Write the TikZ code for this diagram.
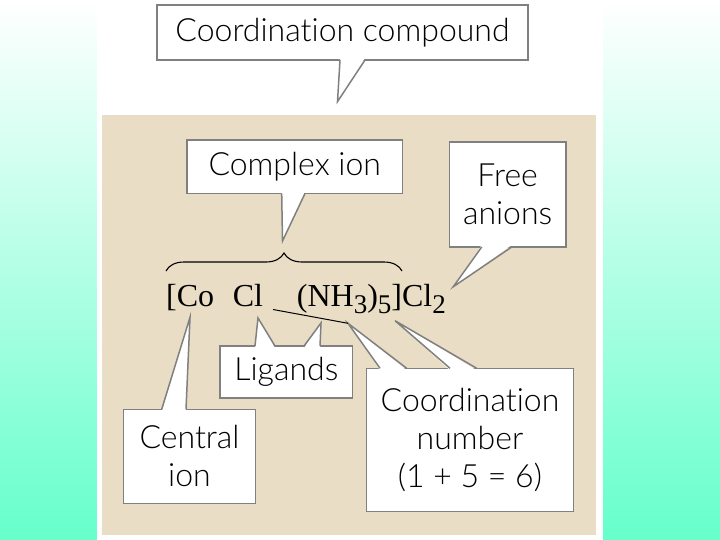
\documentclass[tikz,border=0pt]{standalone}
\usepackage{fontspec}
\IfFontExistsTF{Lato Light}{\setmainfont{Lato Light}[Ligatures=NoCommon]}{\setmainfont{Lato}[Ligatures=NoCommon]}
\newfontfamily\tms{Liberation Serif}
\usetikzlibrary{decorations.pathreplacing,calc}
\definecolor{aqua}{RGB}{102,255,204}
\definecolor{tanbg}{RGB}{233,222,197}
\definecolor{edgegray}{RGB}{128,128,128}
\newcommand{\sbs}[1]{\raisebox{-7pt}{\fontsize{27}{27}\selectfont #1}}
\begin{document}
\begin{tikzpicture}[x=1pt,y=-1pt,
  box/.style={draw=edgegray, line width=1.5pt, fill=white, inner sep=0pt, align=center,
              font=\fontsize{32}{38}\selectfont},
  tailedge/.style={draw=edgegray, line width=1.5pt, line join=miter},
  formula/.style={inner sep=0pt, anchor=base west, font=\tms\fontsize{32}{32}\selectfont}]
\useasboundingbox (0,0) rectangle (720,540);
% background
\shade[top color=white, bottom color=aqua] (0,0) rectangle (720,540);
\fill[white] (97,0) rectangle (603,540);
\fill[tanbg] (102,115) rectangle (596,535);

% boxes
\node[box, minimum width=371pt, minimum height=55pt] (cc) at (342.5,32.5) {Coordination compound};
\node[box, minimum width=215.5pt, minimum height=53.5pt] (ci) at (294.75,166.75) {Complex ion};
\node[box, minimum width=116.7pt, minimum height=105pt] (fa) at (507.65,194.5) {Free\\anions};
\node[box, minimum width=132.7pt, minimum height=52pt] (lg) at (286.35,372) {Ligands};
\node[box, minimum width=132.4pt, minimum height=94pt] (ce) at (189.5,456.3) {Central\\ion};
\node[box, minimum width=206.6pt, minimum height=143.4pt] (cn) at (470,440) {Coordination\\number\\(1 + 5 = 6)};

% tail tips
\coordinate (cct) at (337.5,101.6);
\coordinate (cit) at (282.5,241);
\coordinate (fat) at (453.3,286.7);
\coordinate (lgt1) at (258,318);
\coordinate (lgt2) at (321,323);
\coordinate (cet) at (190,317.3);
\coordinate (cnt1) at (348,323.3);
\coordinate (cnt2) at (395,320.7);

% tails: white fill then gray edges
\fill[white] (340,58) -- (cct) -- (365,58) -- cycle;
\draw[tailedge] (340,60) -- (cct) -- (365,60);
\fill[white] (281.7,191.5) -- (cit) -- (305,191.5) -- cycle;
\draw[tailedge] (281.7,193.5) -- (cit) -- (305,193.5);
\fill[white] (481.7,245) -- (fat) -- (511.7,245) -- cycle;
\draw[tailedge] (481.7,247) -- (fat) -- (511.7,247);
\fill[white] (255,348) -- (lgt1) -- (275,348) -- cycle;
\draw[tailedge] (255,346) -- (lgt1) -- (275,346);
\fill[white] (304,348) -- (lgt2) -- (320,348) -- cycle;
\draw[tailedge] (304,346) -- (lgt2) -- (320,346);
\fill[white] (161.7,411.3) -- (cet) -- (186,411.3) -- cycle;
\draw[tailedge] (161.7,409.3) -- (cet) -- (186,409.3);
\fill[white] (380,370.3) -- (cnt1) -- (406.7,370.3) -- cycle;
\draw[tailedge] (380,368.3) -- (cnt1) -- (406.7,368.3);
\fill[white] (450,370.3) -- (cnt2) -- (476.7,370.3) -- cycle;
\draw[tailedge] (450,368.3) -- (cnt2) -- (476.7,368.3);

% formula
\node[formula] (f1) at (166,306.5) {[Co};
\node[formula] (f2) at (232.7,306.5) {Cl};
\node[formula] (f3) at (296.7,306.5) {(NH\sbs{3})\sbs{5}]Cl\sbs{2}};

% brace over complex ion
\draw[line width=1.1pt, decorate, decoration={brace, amplitude=18pt}] (166,271) coordinate (bl) -- (402,271) coordinate (br);

% line from Cl to coordination number tail
\coordinate (cls) at (273,309.5);
\draw[line width=1pt] (cls) -- (cnt1);
\end{tikzpicture}
\end{document}
